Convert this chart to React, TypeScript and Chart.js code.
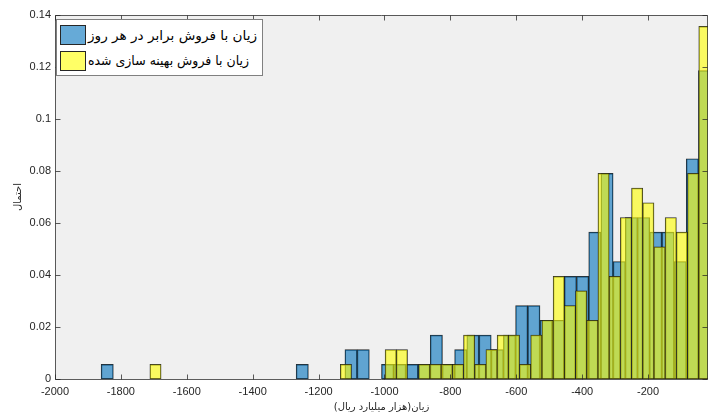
import React, { useEffect, useLayoutEffect, useRef } from 'react';
import { Chart, registerables } from 'chart.js';

Chart.register(...registerables);

// Histogram bin definitions (bin left edge of first bin, bin width)
const blueBinStart = -1860;
const blueBinWidth = 37;
const yellowBinStart = -1712;
const yellowBinWidth = 34;

// Probability per bin (50 bins each), null = empty bin
const blueProb: (number | null)[] = [
  0.0056, null, null, null, null, null, null, null, null, null,
  null, null, null, null, null, null, 0.0056, null, null, null,
  0.0113, 0.0113, null, 0.0056, 0.0056, 0.0056, 0.0056, 0.0169, 0.0056, 0.0113,
  0.0169, 0.0169, 0.0113, 0.0169, 0.0282, 0.0282, 0.0226, 0.0226, 0.0395, 0.0395,
  0.0565, 0.0791, 0.0452, 0.0621, 0.0621, 0.0565, 0.0565, 0.0452, 0.0847, 0.1186,
];
const yellowProb: (number | null)[] = [
  0.0056, null, null, null, null, null, null, null, null, null,
  null, null, null, null, null, null, null, 0.0056, null, null,
  null, 0.0113, 0.0113, null, 0.0056, 0.0056, 0.0056, 0.0056, 0.0169, 0.0056,
  0.0113, 0.0169, 0.0169, 0.0056, 0.0169, 0.0226, 0.0395, 0.0282, 0.0339, 0.0226,
  0.0791, 0.0395, 0.0621, 0.0734, 0.0678, 0.0508, 0.0621, 0.0565, 0.0791, 0.1356,
];

const xTicks = [-2000, -1800, -1600, -1400, -1200, -1000, -800, -600, -400, -200];
const yTicks = [0, 0.02, 0.04, 0.06, 0.08, 0.1, 0.12, 0.14];
const yTickLabels = ['0', '0.02', '0.04', '0.06', '0.08', '0.1', '0.12', '0.14'];

const seriesLabels = ['زیان با فروش برابر در هر روز', 'زیان با فروش بهینه سازی شده'];
const xTitle = 'زیان(هزار میلیارد ریال)\u200F';
const yTitle = 'احتمال';

const X_MIN = -2000;
const X_MAX = -18;

const BLUE_FILL = 'rgba(0,114,189,0.6)';
const YELLOW_FILL = 'rgba(255,255,0,0.6)';
const EDGE = 'rgba(20,20,20,0.9)';
const AXIS = '#262626';
const TICK_FONT = { family: '"Liberation Sans", Arial, sans-serif', size: 11 };
const FA_FONT = '"DejaVu Sans", sans-serif';

const framePlugin = {
  id: 'matlabFrame',
  beforeDraw(chart: any) {
    const { ctx, chartArea: a } = chart;
    ctx.save();
    ctx.fillStyle = '#ffffff';
    ctx.fillRect(0, 0, chart.width, chart.height);
    ctx.fillStyle = '#f0f0f0';
    ctx.fillRect(a.left, a.top, a.right - a.left, a.bottom - a.top);
    ctx.restore();
  },
  afterDatasetsDraw(chart: any) {
    const { ctx, chartArea: a, scales } = chart;
    const x = scales.x;
    const y = scales.y;
    const L = a.left + 0.5;
    const R = a.right - 0.5;
    const T = a.top + 0.5;
    const B = a.bottom + 0.5;
    const tl = 5;
    ctx.save();
    ctx.strokeStyle = 'rgba(38,38,38,0.75)';
    ctx.lineWidth = 1;
    ctx.beginPath();
    ctx.moveTo(L, T); ctx.lineTo(R, T); ctx.lineTo(R, B); ctx.lineTo(L, B); ctx.closePath();
    for (const t of x.ticks) {
      const px = Math.round(x.getPixelForValue(t.value)) + 0.5;
      ctx.moveTo(px, B); ctx.lineTo(px, B - tl);
      ctx.moveTo(px, T); ctx.lineTo(px, T + tl);
    }
    for (const t of y.ticks) {
      const py = Math.round(y.getPixelForValue(t.value)) + 0.5;
      ctx.moveTo(L, py); ctx.lineTo(L + tl, py);
      ctx.moveTo(R, py); ctx.lineTo(R - tl, py);
    }
    ctx.stroke();
    ctx.restore();
  },
};

const LABEL_WIDTHS = [169, 161];

export default function App() {
  const ref = useRef<HTMLCanvasElement>(null);
  const labelRefs = [useRef<HTMLSpanElement>(null), useRef<HTMLSpanElement>(null)];

  useLayoutEffect(() => {
    labelRefs.forEach((r, i) => {
      const el = r.current;
      if (!el) return;
      el.style.transform = 'none';
      const w = el.getBoundingClientRect().width;
      if (w > 0) el.style.transform = `scaleX(${LABEL_WIDTHS[i] / w})`;
    });
  }, []);

  useEffect(() => {
    const blueData = blueProb.map((v, i) => ({ x: blueBinStart + blueBinWidth * (i + 0.5), y: v }));
    const yellowData = yellowProb.map((v, i) => ({ x: yellowBinStart + yellowBinWidth * (i + 0.5), y: v }));

    const common = {
      borderColor: EDGE,
      borderWidth: 0.75,
      borderSkipped: false,
      barPercentage: 1,
      categoryPercentage: 1,
      grouped: false,
    };

    const chart = new Chart(ref.current as HTMLCanvasElement, {
      type: 'bar',
      data: {
        datasets: [
          {
            ...common,
            label: seriesLabels[0],
            data: blueData,
            xAxisID: 'x',
            yAxisID: 'y',
            backgroundColor: BLUE_FILL,
            order: 2,
          } as any,
          {
            ...common,
            label: seriesLabels[1],
            data: yellowData,
            xAxisID: 'x2',
            yAxisID: 'y',
            backgroundColor: YELLOW_FILL,
            order: 1,
          } as any,
        ],
      },
      options: {
        animation: false,
        responsive: false,
        devicePixelRatio: 1,
        layout: { padding: { top: 15, left: 0, right: 0, bottom: 0 } },
        plugins: { legend: { display: false }, tooltip: { enabled: false } },
        scales: {
          x: {
            type: 'linear',
            position: 'bottom',
            offset: false,
            min: X_MIN,
            max: X_MAX,
            grid: { display: false, drawTicks: false, offset: false },
            border: { display: false },
            afterBuildTicks: (s: any) => { s.ticks = xTicks.map((v) => ({ value: v })); },
            afterFit: (s: any) => { s.height = 34; },
            ticks: {
              padding: 6,
              maxRotation: 0,
              autoSkip: false,
              color: AXIS,
              font: TICK_FONT,
              callback: (v: any) => String(v),
            },
            title: {
              display: true,
              text: xTitle,
              color: AXIS,
              font: { family: FA_FONT, size: 10 },
              padding: { top: 0, bottom: 0 },
            },
          },
          x2: {
            type: 'linear',
            display: false,
            offset: false,
            grid: { offset: false },
            min: X_MIN,
            max: X_MAX,
            afterBuildTicks: (s: any) => { s.ticks = xTicks.map((v) => ({ value: v })); },
          },
          y: {
            type: 'linear',
            min: 0,
            max: 0.14,
            grid: { display: false, drawTicks: false },
            border: { display: false },
            afterBuildTicks: (s: any) => { s.ticks = yTicks.map((v) => ({ value: v })); },
            afterFit: (s: any) => { s.width = 55; },
            ticks: {
              padding: 4,
              color: AXIS,
              font: TICK_FONT,
              callback: (_v: any, i: number) => yTickLabels[i],
            },
            title: {
              display: true,
              text: yTitle,
              color: AXIS,
              font: { family: FA_FONT, size: 10 },
              padding: { top: 12, bottom: 0 },
            },
          },
        } as any,
      },
      plugins: [framePlugin],
    });
    return () => chart.destroy();
  }, []);

  const patch = (bg: string, top: number) => (
    <div
      style={{
        position: 'absolute',
        left: 3,
        top,
        width: 26,
        height: 20,
        boxSizing: 'border-box',
        border: '1px solid #262626',
        background: bg,
      }}
    />
  );
  const label = (i: number, top: number) => (
    <span
      ref={labelRefs[i]}
      style={{
        position: 'absolute',
        left: 31,
        top,
        height: 20,
        lineHeight: '20px',
        fontFamily: FA_FONT,
        fontSize: 13,
        color: '#000',
        whiteSpace: 'nowrap',
        direction: 'rtl',
        unicodeBidi: 'isolate',
        transformOrigin: '0 50%',
        display: 'inline-block',
      }}
    >
      {seriesLabels[i]}
    </span>
  );

  return (
    <div style={{ position: 'fixed', left: 0, top: 0, width: 708, height: 413, background: '#fff', overflow: 'hidden' }}>
      <canvas ref={ref} width={708} height={413} style={{ position: 'absolute', left: 0, top: 0, width: 708, height: 413 }} />
      <div
        style={{
          position: 'absolute',
          left: 56,
          top: 19,
          width: 207,
          height: 57,
          boxSizing: 'border-box',
          border: '1px solid #808080',
          background: '#fff',
        }}
      >
        {patch('rgb(102,170,215)', 5)}
        {label(0, 6)}
        {patch('rgb(255,255,102)', 31)}
        {label(1, 31)}
      </div>
    </div>
  );
}
